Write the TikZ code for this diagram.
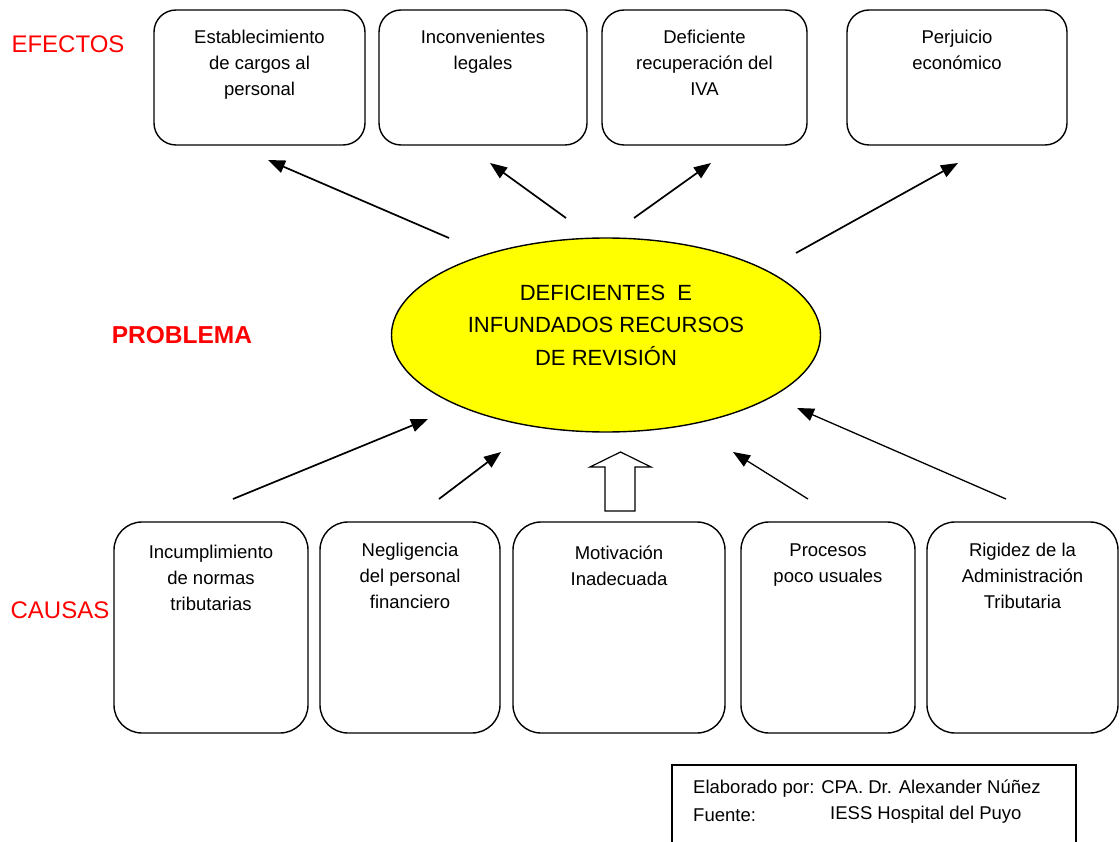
\documentclass[tikz,border=0pt]{standalone}
\usepackage{fontspec}
\setmainfont{Liberation Sans}
\usetikzlibrary{arrows.meta,positioning,shapes.geometric}

\definecolor{amarillo}{RGB}{255,255,0}
\tikzset{
  caja/.style={draw, rounded corners=22pt, line width=1.4pt, inner sep=0pt},
  texto/.style={align=center, inner sep=0pt, font=\fontsize{18.5}{26}\selectfont},
  titulo/.style={text=red, inner sep=0pt, font=\fontsize{24}{28}\selectfont},
  flecha/.style={line width=1.7pt, -{Triangle[length=17pt,width=13pt]}},
}

\begin{document}
\begin{tikzpicture}[x=1pt,y=-1pt]
    \useasboundingbox (0,0) rectangle (1120,842);
    % titulos
    \node[titulo] (efectos) at (68,44) {EFECTOS};
    \node[titulo, font=\fontsize{24.5}{28}\selectfont\bfseries] (problema) at (182,335) {PROBLEMA};
    \node[titulo] (causas) at (60,610) {CAUSAS};
    % efectos
    \node[caja, minimum width=211pt, minimum height=135pt] (ef1) at (259.5,77.5) {};
    \node[caja, minimum width=208pt, minimum height=135pt] (ef2) at (483,77.5) {};
    \node[caja, minimum width=205pt, minimum height=135pt] (ef3) at (704.5,77.5) {};
    \node[caja, minimum width=220pt, minimum height=135pt] (ef4) at (957,77.5) {};
    \node[texto, below=21pt of ef1.north] (tef1) {Establecimiento\\de cargos al\\personal};
    \node[texto, below=21pt of ef2.north] (tef2) {Inconvenientes\\legales};
    \node[texto, below=21pt of ef3.north] (tef3) {Deficiente\\recuperación del\\IVA};
    \node[texto, below=21pt of ef4.north] (tef4) {Perjuicio\\económico};
    % problema
    \node[draw, ellipse, fill=amarillo, line width=1.4pt, minimum width=429pt, minimum height=194pt, inner sep=0pt] (prob) at (606,335) {};
    \node[texto, font=\fontsize{22}{32.5}\selectfont] (tprob) at (606,325) {DEFICIENTES\ \ E\\INFUNDADOS RECURSOS\\DE REVISIÓN};
    % causas
    \node[caja, rounded corners=28pt, minimum width=194pt, minimum height=211pt] (ca1) at (211,627.5) {};
    \node[caja, rounded corners=28pt, minimum width=180pt, minimum height=211pt] (ca2) at (410,627.5) {};
    \node[caja, rounded corners=28pt, minimum width=212pt, minimum height=211pt] (ca3) at (619,627.5) {};
    \node[caja, rounded corners=28pt, minimum width=174pt, minimum height=211pt] (ca4) at (828,627.5) {};
    \node[caja, rounded corners=28pt, minimum width=191pt, minimum height=211pt] (ca5) at (1022.5,627.5) {};
    \node[texto, below=24pt of ca1.north] (tca1) {Incumplimiento\\de normas\\tributarias};
    \node[texto, below=22pt of ca2.north] (tca2) {Negligencia\\del personal\\financiero};
    \node[texto, below=24pt of ca3.north] (tca3) {Motivación\\Inadecuada};
    \node[texto, below=22pt of ca4.north] (tca4) {Procesos\\poco usuales};
    \node[texto, below=22pt of ca5.north] (tca5) {Rigidez de la\\Administración\\Tributaria};
    % flechas hacia los efectos
    \coordinate (e1) at (449,238);  \coordinate (p1) at (268,160);
    \coordinate (e2) at (566,218);  \coordinate (p2) at (490,163);
    \coordinate (e3) at (634,218);  \coordinate (p3) at (711,163);
    \coordinate (e4) at (796,253);  \coordinate (p4) at (958,163);
    \draw[flecha] (e1) -- (p1);
    \draw[flecha] (e2) -- (p2);
    \draw[flecha] (e3) -- (p3);
    \draw[flecha] (e4) -- (p4);
    % flechas desde las causas
    \coordinate (c1) at (233,499);  \coordinate (q1) at (428,419);
    \coordinate (c2) at (439,499);  \coordinate (q2) at (501,452);
    \coordinate (c4) at (808,499);  \coordinate (q4) at (733,452);
    \coordinate (c5) at (1006,499); \coordinate (q5) at (797,408);
    \draw[flecha] (c1) -- (q1);
    \draw[flecha] (c2) -- (q2);
    \draw[flecha, line width=1.3pt] (c4) -- (q4);
    \draw[flecha, line width=1.3pt] (c5) -- (q5);
    \draw[line width=1.2pt, fill=white] (605,511) -- (605,467) -- (590,467) -- (620.5,452)
      -- (651,467) -- (635,467) -- (635,511) -- cycle;
    % fuente
    \draw[line width=1.2pt] (672,842) -- (672,765) -- (1076,765) -- (1076,842);
    \node[texto, anchor=west] (elab) at (693,789) {Elaborado por: CPA. Dr. Alexander Núñez};
    \node[texto, anchor=west] (fuente) at (693,815) {Fuente:};
    \node[texto, anchor=west] (hosp) at (830,815) {IESS Hospital del Puyo};
\end{tikzpicture}
\end{document}
